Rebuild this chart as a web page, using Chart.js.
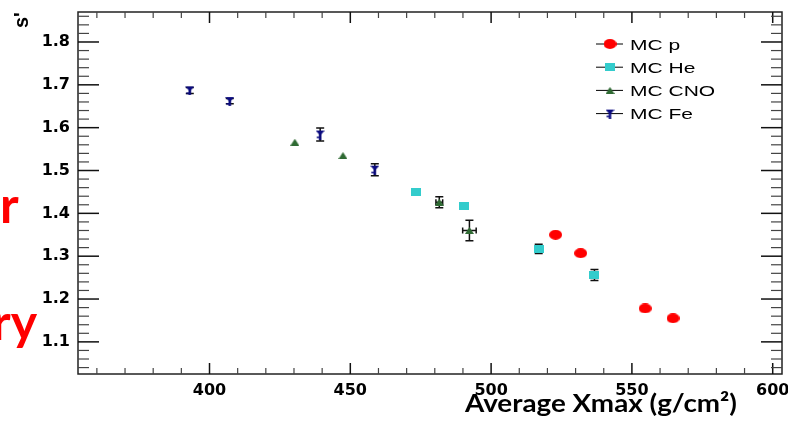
<!DOCTYPE html>
<html>
<head>
<meta charset="utf-8">
<script src="https://cdn.jsdelivr.net/npm/chart.js@4.4.1/dist/chart.umd.min.js"></script>
<style>
    html, body { margin: 0; padding: 0; background: #ffffff; }
    #wrap { position: relative; width: 788px; height: 425px; }
</style>
</head>
<body>
<div id="wrap"><canvas id="xmax-chart" width="788" height="425"></canvas></div>
<script>
// ─── Series values ────────────────────────────────────────────────────────────
const protonX    = [522.9, 531.8, 554.7, 564.6];
const protonY    = [1.350, 1.307, 1.178, 1.155];
const protonYErr = [0, 0, 0, 0];

const heliumX    = [473.3, 490.3, 516.9, 536.7];
const heliumY    = [1.451, 1.416, 1.317, 1.256];
const heliumYErr = [0, 0, 0.011, 0.013];

const cnoX       = [430.3, 447.4, 481.6, 492.3];
const cnoY       = [1.566, 1.535, 1.426, 1.360];
const cnoYErr    = [0, 0, 0.013, 0.024];
const cnoXErr    = [0, 0, 1.2, 2.4];

const ironX      = [393.0, 407.2, 439.3, 458.7];
const ironY      = [1.687, 1.662, 1.584, 1.502];
const ironYErr   = [0.007, 0.006, 0.015, 0.014];

const seriesLabels = ['MC p', 'MC He', 'MC CNO', 'MC Fe'];
const xTicks = [400, 450, 500, 550, 600];
const yTicks = [1.1, 1.2, 1.3, 1.4, 1.5, 1.6, 1.7, 1.8];
const xTitle = 'Average Xmax (g/cm²)';

// ─── Marker images ────────────────────────────────────────────────────────────
const makeMarker = (w, h, draw) => {
    const c = document.createElement('canvas');
    c.width = w; c.height = h;
    draw(c.getContext('2d'), w, h);
    return c;
};

const markerP = makeMarker(13, 10, (g, w, h) => {
    g.fillStyle = '#ff0000';
    g.beginPath();
    g.ellipse(w / 2, h / 2, w / 2, h / 2, 0, 0, Math.PI * 2);
    g.fill();
});
const markerHe = makeMarker(10, 8, (g, w, h) => {
    g.fillStyle = '#33cccc';
    g.fillRect(0, 0, w, h);
});
const markerCNO = makeMarker(9, 7, (g, w, h) => {
    g.fillStyle = '#2f6a33';
    g.beginPath();
    g.moveTo(w / 2, 0); g.lineTo(w, h); g.lineTo(0, h);
    g.closePath();
    g.fill();
});
const markerFe = makeMarker(9, 10, (g, w, h) => {
    g.fillStyle = '#0a0a80';
    g.beginPath();
    g.moveTo(0, 1); g.lineTo(w, 1); g.lineTo(w / 2, 6);
    g.closePath();
    g.fill();
    g.fillRect(w / 2 - 1.2, 4, 2.4, h - 4);
    g.fillRect(1, 7, 3, 1.5);
});

const toPoints = (xs, ys, yErr, xErr) =>
    xs.map((x, i) => ({ x, y: ys[i], yErr: yErr ? yErr[i] : 0, xErr: xErr ? xErr[i] : 0 }));

// ─── Frame with ROOT-style inward ticks ───────────────────────────────────────
const frameTicks = {
    id: 'frameTicks',
    beforeDatasetsDraw(chart) {
        const { ctx, chartArea: a, scales: { x, y } } = chart;
        const line = (x1, y1, x2, y2) => {
            ctx.beginPath(); ctx.moveTo(x1, y1); ctx.lineTo(x2, y2); ctx.stroke();
        };
        ctx.save();
        ctx.strokeStyle = '#222';
        ctx.lineWidth = 1.5;
        ctx.strokeRect(a.left, a.top, a.right - a.left, a.bottom - a.top);

        for (let v = 360; v <= 600; v += 10) {
            const px = x.getPixelForValue(v);
            const major = v % 50 === 0;
            const len = major ? 11 : 6;
            ctx.strokeStyle = major ? '#111' : '#444';
            ctx.lineWidth = major ? 1.5 : 1.2;
            line(px, a.bottom, px, a.bottom - len);
            line(px, a.top, px, a.top + len);
        }
        for (let i = 52; i <= 93; i++) {
            const py = y.getPixelForValue(i * 0.02);
            const major = i % 5 === 0;
            const len = major ? 21 : 11;
            ctx.strokeStyle = major ? '#111' : '#444';
            ctx.lineWidth = major ? 1.5 : 1.2;
            line(a.left, py, a.left + len, py);
            line(a.right, py, a.right - len, py);
        }
        ctx.restore();
    }
};

// ─── Error bars (drawn under the markers) ─────────────────────────────────────
const errorBars = {
    id: 'errorBars',
    beforeDatasetsDraw(chart) {
        const { ctx, scales: { x, y } } = chart;
        ctx.save();
        ctx.strokeStyle = '#111';
        ctx.lineWidth = 1.5;
        chart.data.datasets.forEach(ds => {
            ds.data.forEach(pt => {
                const px = x.getPixelForValue(pt.x);
                const py = y.getPixelForValue(pt.y);
                if (pt.yErr) {
                    const top = y.getPixelForValue(pt.y + pt.yErr);
                    const bot = y.getPixelForValue(pt.y - pt.yErr);
                    ctx.beginPath();
                    ctx.moveTo(px, top); ctx.lineTo(px, bot);
                    ctx.moveTo(px - 4, top); ctx.lineTo(px + 4, top);
                    ctx.moveTo(px - 4, bot); ctx.lineTo(px + 4, bot);
                    ctx.stroke();
                }
                if (pt.xErr) {
                    const l = x.getPixelForValue(pt.x - pt.xErr);
                    const r = x.getPixelForValue(pt.x + pt.xErr);
                    ctx.beginPath();
                    ctx.moveTo(l, py); ctx.lineTo(r, py);
                    ctx.moveTo(l, py - 3); ctx.lineTo(l, py + 3);
                    ctx.moveTo(r, py - 3); ctx.lineTo(r, py + 3);
                    ctx.stroke();
                }
            });
        });
        ctx.restore();
    }
};

// ─── Legend, axis title and side text ─────────────────────────────────────────
const overlayText = {
    id: 'overlayText',
    afterDraw(chart) {
        const { ctx } = chart;
        ctx.save();
        ctx.textBaseline = 'alphabetic';
        ctx.textAlign = 'left';

        // legend
        chart.data.datasets.forEach((ds, i) => {
            const base = 49.5 + i * 23.2;
            const cy = base - 5.5;
            ctx.strokeStyle = '#000';
            ctx.lineWidth = 1;
            ctx.beginPath(); ctx.moveTo(596, cy); ctx.lineTo(623, cy); ctx.stroke();
            const img = ds.pointStyle;
            ctx.drawImage(img, 610 - img.width / 2, cy - img.height / 2);
            ctx.save();
            ctx.translate(630, base);
            ctx.scale(1.4, 1);
            ctx.fillStyle = '#000';
            ctx.font = '15px "Liberation Sans", Arial, sans-serif';
            ctx.fillText(ds.label, 0, 0);
            ctx.restore();
        });

        // x axis title, right-aligned ROOT style
        ctx.font = 'bold 25px Lato, "Open Sans", sans-serif';
        const tw = ctx.measureText(xTitle).width;
        ctx.save();
        ctx.translate(465, 412);
        ctx.scale(272 / tw, 1);
        ctx.fillStyle = '#000';
        ctx.fillText(xTitle, 0, 0);
        ctx.restore();

        // clipped y title fragment
        ctx.save();
        ctx.translate(27.5, 28);
        ctx.rotate(-Math.PI / 2);
        ctx.font = 'bold 20px "Liberation Sans", Arial, sans-serif';
        ctx.fillStyle = '#000';
        ctx.fillText("s'", 0, 0);
        ctx.restore();

        // red slide text cut at the left edge
        ctx.fillStyle = '#ff0000';
        ctx.font = 'bold 50px Lato, "Open Sans", sans-serif';
        ctx.fillText('r', 0, 223);
        ctx.fillText('ry', -8, 340);
        ctx.restore();
    }
};

const tickFont = { family: '"DejaVu Sans", sans-serif', size: 16, weight: 'bold' };

new Chart(document.getElementById('xmax-chart'), {
    type: 'scatter',
    data: {
        datasets: [
            { label: seriesLabels[0], data: toPoints(protonX, protonY, protonYErr), pointStyle: markerP },
            { label: seriesLabels[1], data: toPoints(heliumX, heliumY, heliumYErr), pointStyle: markerHe },
            { label: seriesLabels[2], data: toPoints(cnoX, cnoY, cnoYErr, cnoXErr), pointStyle: markerCNO },
            { label: seriesLabels[3], data: toPoints(ironX, ironY, ironYErr), pointStyle: markerFe }
        ]
    },
    options: {
        responsive: false,
        animation: false,
        events: [],
        layout: { padding: { top: 12, right: 2, left: 0, bottom: 0 } },
        elements: { point: { radius: 5 } },
        plugins: { legend: { display: false }, tooltip: { enabled: false } },
        scales: {
            x: {
                type: 'linear',
                min: 353.3,
                max: 603.3,
                grid: { display: false, drawTicks: false },
                border: { display: false },
                afterBuildTicks: s => { s.ticks = xTicks.map(v => ({ value: v })); },
                afterFit: s => { s.height = 51; s.paddingLeft = 0; s.paddingRight = 0; },
                ticks: {
                    font: tickFont, color: '#000', padding: 7,
                    maxRotation: 0, autoSkip: false
                }
            },
            y: {
                type: 'linear',
                min: 1.025,
                max: 1.87,
                grid: { display: false, drawTicks: false },
                border: { display: false },
                afterBuildTicks: s => { s.ticks = yTicks.map(v => ({ value: v })); },
                afterFit: s => { s.width = 78; s.paddingTop = 0; s.paddingBottom = 0; },
                ticks: {
                    font: tickFont, color: '#000', padding: 8, autoSkip: false,
                    callback: v => v.toFixed(1)
                }
            }
        }
    },
    plugins: [frameTicks, errorBars, overlayText]
});
</script>
</body>
</html>
